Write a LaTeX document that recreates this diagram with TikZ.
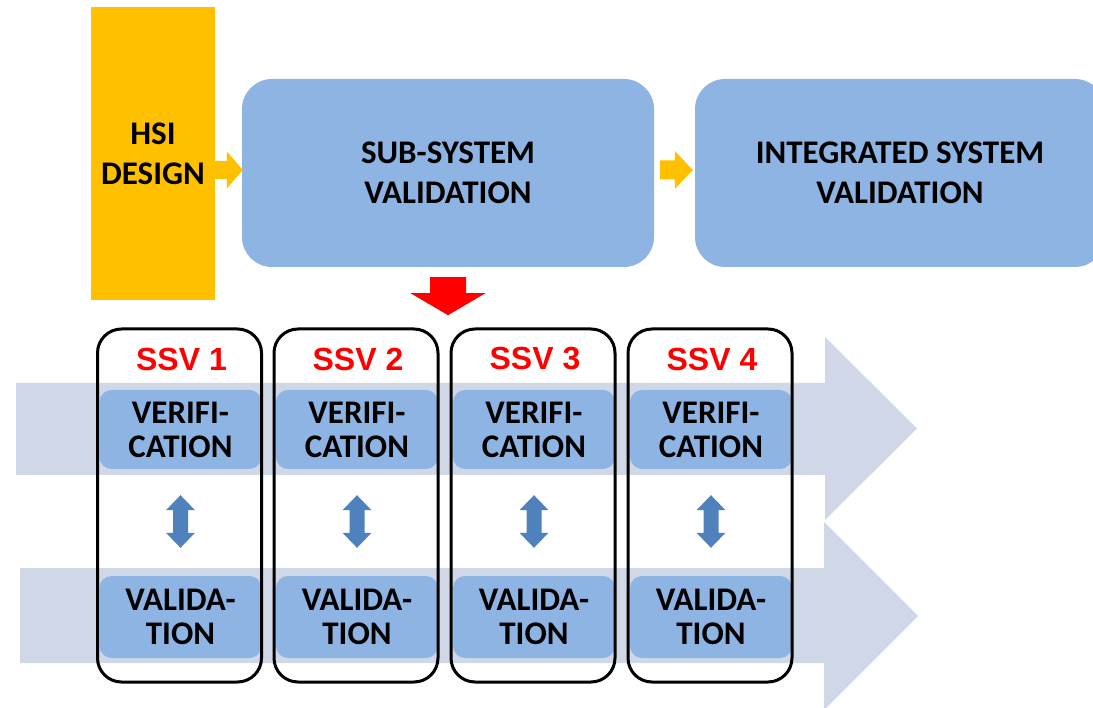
\documentclass[tikz,border=0pt]{standalone}
\usepackage{fontspec}
\setmainfont{Carlito}
\newfontfamily\ssvfont{Liberation Sans}
\usetikzlibrary{calc}
\definecolor{hsiyellow}{HTML}{FFC000}
\definecolor{stageblue}{HTML}{8EB4E3}
\definecolor{flowgray}{HTML}{D0D8E8}
\definecolor{linkblue}{HTML}{4F81BD}
\definecolor{ssvred}{HTML}{FF0000}

% horizontal block arrow: start, tip, shaft half-width, head length, head half-height
\newcommand\hblockarrow[6]{%
  \fill[#1] ($(#2)+(0,-#4)$) -- ($(#3)+(-#5,-#4)$) -- ($(#3)+(-#5,-#6)$) -- (#3)
    -- ($(#3)+(-#5,#6)$) -- ($(#3)+(-#5,#4)$) -- ($(#2)+(0,#4)$) -- cycle;}
% vertical double-headed arrow between two points of equal x
\newcommand\vdoublearrow[2]{%
  \fill[linkblue] (#1) -- ($(#1)+(14.5,15)$) -- ($(#1)+(7.5,15)$) -- ($(#2)+(7.5,-15)$)
    -- ($(#2)+(14.5,-15)$) -- (#2) -- ($(#2)+(-14.5,-15)$) -- ($(#2)+(-7.5,-15)$)
    -- ($(#1)+(-7.5,15)$) -- ($(#1)+(-14.5,15)$) -- cycle;}

\begin{document}
\begin{tikzpicture}[x=1pt,y=-1pt,
  boldtext/.style={font=\fontsize{33}{40}\selectfont\bfseries, align=center},
  hsibox/.style={boldtext, fill=hsiyellow, minimum width=124pt, minimum height=293pt, inner sep=0pt},
  stagebox/.style={boldtext, fill=stageblue, rounded corners=30pt, minimum height=188pt, inner sep=0pt},
  phasebox/.style={fill=stageblue, rounded corners=12pt, minimum width=162pt, inner sep=0pt,
    align=center, font=\fontsize{33}{34}\selectfont\bfseries},
  ssvframe/.style={draw=black, line width=3pt, rounded corners=24pt,
    minimum width=164pt, minimum height=353pt, inner sep=0pt},
  ssvlabel/.style={text=ssvred, inner sep=0pt, font=\ssvfont\fontsize{32}{38}\selectfont\bfseries},
  flowarrow/.style={fill=flowgray},
  yarrow/.style={fill=hsiyellow},
  rarrow/.style={fill=ssvred}]
\useasboundingbox (0,0) rectangle (1093,708);

% process flow bands behind the sub-system stages
\fill[flowarrow] (16,383) -- (825,383) -- (825,337) -- (917,428.5) -- (825,520)
  -- (825,475) -- (16,475) -- cycle;
\fill[flowarrow] (20,568) -- (824,568) -- (824,522) -- (918,616) -- (824,710)
  -- (824,663) -- (20,663) -- cycle;

% top row
\node[hsibox] (hsi) at (153,153.5) {HSI\\DESIGN};
\node[stagebox, minimum width=412pt] (sub) at (448,173) {SUB-SYSTEM\\VALIDATION};
\node[stagebox, minimum width=410pt] (int) at (900,173) {INTEGRATED SYSTEM\\VALIDATION};

\coordinate (a1s) at ($(hsi.east |- sub.west)+(0,-3)$);
\coordinate (a1e) at ($(sub.west)+(1,-3)$);
\hblockarrow{yarrow}{a1s}{a1e}{9}{16}{18.5}
\coordinate (a2s) at ($(sub.east)+(6,-3)$);
\coordinate (a2e) at ($(int.west)+(-2,-3)$);
\hblockarrow{yarrow}{a2s}{a2e}{9.5}{18}{19}

% breakdown of the sub-system validation
\coordinate (rs) at ($(sub.south)+(0,10)$);
\coordinate (re) at ($(sub.south)+(0,48)$);
\fill[rarrow] ($(rs)+(-18,0)$) -- ($(re)+(-18,-22)$) -- ($(re)+(-37.5,-22)$) -- (re)
  -- ($(re)+(37.5,-22)$) -- ($(re)+(18,-22)$) -- ($(rs)+(18,0)$) -- cycle;

% sub-system validation steps
\foreach \i/\cx in {1/179.5,2/356,3/533,4/710}{
  \node[phasebox, minimum height=79pt] (ver\i) at (\cx+1,429.5) {VERIFI-\\CATION};
  \node[phasebox, minimum height=82pt] (val\i) at (\cx+1,617) {VALIDA-\\TION};
  \node[ssvframe] (ssv\i) at (\cx,505.5) {};
  \node[ssvlabel] (lab\i) at (\cx+2,359) {SSV \i};
  \coordinate (dt\i) at ($(ver\i.south)+(0,26)$);
  \coordinate (db\i) at ($(val\i.north)+(0,-28)$);
  \vdoublearrow{dt\i}{db\i}
}
\end{tikzpicture}
\end{document}
